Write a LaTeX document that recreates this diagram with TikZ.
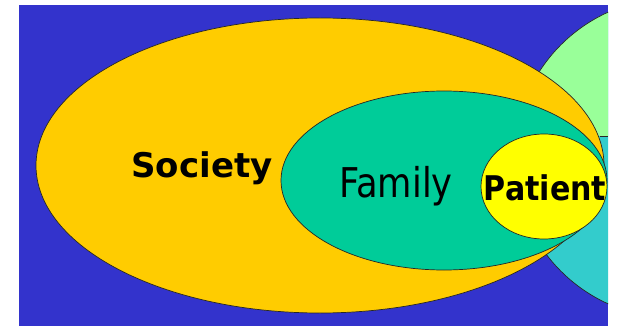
\documentclass[tikz,border=0pt]{standalone}
\usepackage{fontspec}
\newfontfamily\labelfont{DejaVu Sans}
\definecolor{bgblue}{HTML}{3333CC}
\definecolor{society}{HTML}{FFCC00}
\definecolor{familyc}{HTML}{00CC99}
\definecolor{patientc}{HTML}{FFFF00}
\definecolor{paleg}{HTML}{99FF99}
\definecolor{tealc}{HTML}{33CCCC}
\tikzset{
  ring/.style={draw=black!85, line width=0.7pt},
  lbl/.style={anchor=base, inner sep=0pt, text=black}
}
\begin{document}
\begin{tikzpicture}[x=1pt, y=-1pt]
  \useasboundingbox[fill=white] (0,0) rectangle (618,326);
  % blue panel
  \fill[bgblue] (19,5) rectangle (608,326);
  \begin{scope}
    \clip (19,5) rectangle (608,326);
    % outer circle on the right, two-tone
    \fill[tealc] (674,158) circle[radius=160];
    \begin{scope}
      \clip (19,5) rectangle (608,136);
      \fill[paleg] (674,158) circle[radius=160];
    \end{scope}
    \draw[ring] (674,158) circle[radius=160];
    \draw[ring] (600,136) -- (608,136);
    % nested ellipses
    \filldraw[ring, fill=society] (320,165.5) ellipse[x radius=284, y radius=147.5];
    \filldraw[ring, fill=familyc] (444,180.5) ellipse[x radius=163, y radius=89.5];
    \filldraw[ring, fill=patientc] (544,186.5) ellipse[x radius=63, y radius=52.5];
  \end{scope}
  % labels
  \node[lbl, font=\labelfont\bfseries\fontsize{34}{40}\selectfont] (soc) at (202,177) {Society};
  \node[lbl, font=\labelfont\fontsize{41}{48}\selectfont] (fam) at (396,197) {\scalebox{0.86}[1]{Family}};
  \node[lbl, font=\labelfont\bfseries\fontsize{34}{40}\selectfont] (pat) at (545,200) {\scalebox{0.885}[1]{Patient}};
\end{tikzpicture}
\end{document}
